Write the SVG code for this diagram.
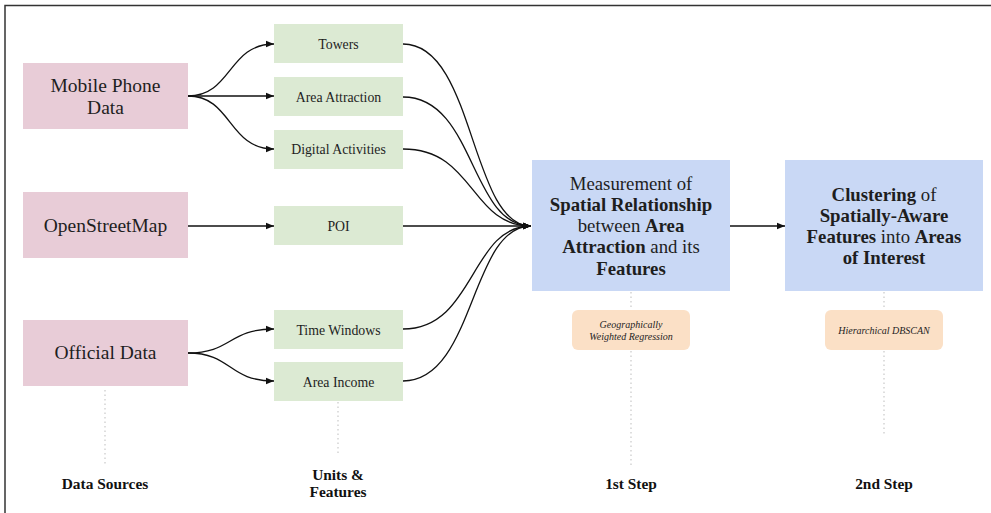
<svg xmlns="http://www.w3.org/2000/svg" width="991" height="513" viewBox="0 0 991 513">
<defs>
<marker id="ah" viewBox="0 0 10 10" refX="10" refY="5" markerWidth="8" markerHeight="8" markerUnits="userSpaceOnUse" orient="auto">
<path d="M0,1 L10,5 L0,9 z" fill="#111"/>
</marker>
<style>
.src{fill:#e8ccd7}
.feat{fill:#dcead3}
.step{fill:#c9d8f5}
.meth{fill:#fbe0c6}
text{font-family:"Liberation Serif","DejaVu Serif",serif;fill:#1e1e1e;text-anchor:middle}
.t18{font-size:19.5px}
.t12{font-size:13.8px}
.t17{font-size:18.8px}
.b{font-weight:bold}
.it{font-style:italic;font-size:10px}
.lab{font-size:15.4px;font-weight:bold;fill:#111}
.con{fill:none;stroke:#111;stroke-width:1.3}
.dot{fill:none;stroke:#c8c8c8;stroke-width:1.2;stroke-dasharray:1.5 3}
</style>
</defs>
<rect width="991" height="513" fill="#fff"/>
<path d="M5,513 V5.5 H991" fill="none" stroke="#333" stroke-width="1.5"/>

<g id="guides">
<line class="dot" x1="105" y1="390" x2="105" y2="465"/>
<line class="dot" x1="338" y1="402" x2="338" y2="455"/>
<line class="dot" x1="631" y1="292" x2="631" y2="310"/>
<line class="dot" x1="631" y1="351" x2="631" y2="465"/>
<line class="dot" x1="884" y1="292" x2="884" y2="310"/>
<line class="dot" x1="884" y1="351" x2="884" y2="436"/>
</g>

<g id="connectors">
<path class="con" marker-end="url(#ah)" d="M188,96 C232,96 228,44 274,44"/>
<path class="con" marker-end="url(#ah)" d="M188,96 L274,96"/>
<path class="con" marker-end="url(#ah)" d="M188,96 C232,96 228,149 274,149"/>
<path class="con" marker-end="url(#ah)" d="M188,226 L274,226"/>
<path class="con" marker-end="url(#ah)" d="M188,353 C232,353 228,329 274,329"/>
<path class="con" marker-end="url(#ah)" d="M188,353 C232,353 228,381 274,381"/>
<path class="con" marker-end="url(#ah)" d="M403,44 C475,44 470,226 531,226"/>
<path class="con" marker-end="url(#ah)" d="M403,97 C475,97 470,226 531,226"/>
<path class="con" marker-end="url(#ah)" d="M403,149 C475,149 470,226 531,226"/>
<path class="con" marker-end="url(#ah)" d="M403,226 L531,226"/>
<path class="con" marker-end="url(#ah)" d="M403,329 C475,329 470,226 531,226"/>
<path class="con" marker-end="url(#ah)" d="M403,381 C475,381 470,226 531,226"/>
<path class="con" marker-end="url(#ah)" d="M730,226 L785,226"/>
</g>

<g id="mobile"><rect class="src" x="23" y="63" width="165" height="66"/>
<text class="t18" x="105.5" y="92">Mobile Phone</text><text class="t18" x="105.5" y="114">Data</text></g>
<g id="osm"><rect class="src" x="23" y="192" width="165" height="66"/>
<text class="t18" x="105.5" y="232">OpenStreetMap</text></g>
<g id="official"><rect class="src" x="23" y="320" width="165" height="66"/>
<text class="t18" x="105.5" y="359">Official Data</text></g>

<g id="towers"><rect class="feat" x="274" y="24" width="129" height="39"/><text class="t12" x="338.5" y="48.5">Towers</text></g>
<g id="area-attraction"><rect class="feat" x="274" y="77" width="129" height="39"/><text class="t12" x="338.5" y="101.5">Area Attraction</text></g>
<g id="digital"><rect class="feat" x="274" y="130" width="129" height="39"/><text class="t12" x="338.5" y="154">Digital Activities</text></g>
<g id="poi"><rect class="feat" x="274" y="206" width="129" height="39"/><text class="t12" x="338.5" y="230.5">POI</text></g>
<g id="time"><rect class="feat" x="274" y="310" width="129" height="39"/><text class="t12" x="338.5" y="334.5">Time Windows</text></g>
<g id="income"><rect class="feat" x="274" y="362" width="129" height="39"/><text class="t12" x="338.5" y="386.5">Area Income</text></g>

<g id="step1"><rect class="step" x="532" y="160" width="198" height="131"/>
<text class="t17" x="631" y="190">Measurement of</text>
<text class="t17 b" x="631" y="211">Spatial Relationship</text>
<text class="t17" x="631" y="232">between <tspan class="b">Area</tspan></text>
<text class="t17" x="631" y="253"><tspan class="b">Attraction</tspan> and its</text>
<text class="t17 b" x="631" y="275">Features</text></g>

<g id="step2"><rect class="step" x="785" y="160" width="198" height="131"/>
<text class="t17" x="884" y="201"><tspan class="b">Clustering</tspan> of</text>
<text class="t17 b" x="884" y="222">Spatially-Aware</text>
<text class="t17" x="884" y="243"><tspan class="b">Features</tspan> into <tspan class="b">Areas</tspan></text>
<text class="t17 b" x="884" y="264">of Interest</text></g>

<g id="gwr"><rect class="meth" x="572" y="310" width="118" height="40" rx="6"/>
<text class="it" x="631" y="327.5">Geographically</text><text class="it" x="631" y="339.5">Weighted Regression</text></g>
<g id="hdbscan"><rect class="meth" x="825" y="310" width="118" height="40" rx="6"/>
<text class="it" x="884" y="333.5">Hierarchical DBSCAN</text></g>

<g id="labels">
<text class="lab" x="105" y="489">Data Sources</text>
<text class="lab" x="338" y="480">Units &amp;</text>
<text class="lab" x="338" y="497">Features</text>
<text class="lab" x="631" y="489">1st Step</text>
<text class="lab" x="884" y="489">2nd Step</text>
</g>
</svg>
